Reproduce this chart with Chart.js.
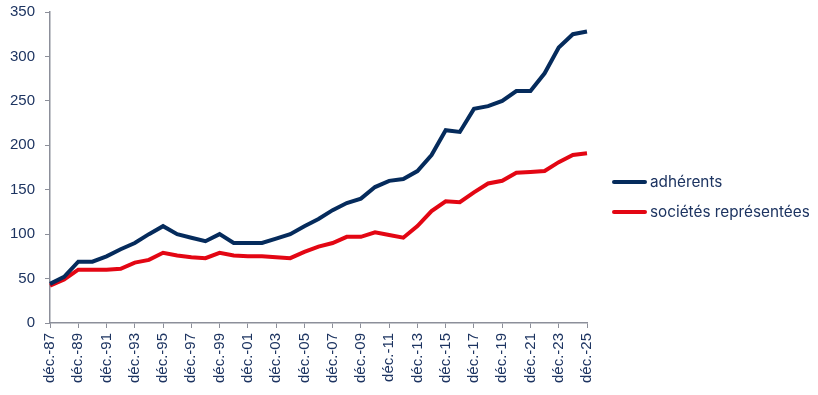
<!DOCTYPE html>
<html lang="fr">
<head>
<meta charset="UTF-8">
<title>Adhérents et sociétés représentées</title>
<style>
  html, body { margin: 0; padding: 0; background: #fff; }
  #wrap { width: 818px; height: 395px; position: relative; }
</style>
<script src="https://cdn.jsdelivr.net/npm/chart.js@4.4.1/dist/chart.umd.min.js"></script>
</head>
<body>
<div id="wrap"><canvas id="chart" width="818" height="395"></canvas></div>
<script>
// données (déc. de chaque année, 1987 -> 2025)
const years = ['87','88','89','90','91','92','93','94','95','96','97','98','99',
               '00','01','02','03','04','05','06','07','08','09','10','11','12',
               '13','14','15','16','17','18','19','20','21','22','23','24','25'];
const labels = years.map(y => 'déc.-' + y);

const adherents = [44, 52, 69, 69, 75, 83, 90, 100, 109, 100, 96, 92, 100,
                   90, 90, 90, 95, 100, 109, 117, 127, 135, 140, 153, 160, 162,
                   171, 189, 217, 215, 241, 244, 250, 261, 261, 281, 310, 325, 328];
const societes = [42, 49, 60, 60, 60, 61, 68, 71, 79, 76, 74, 73, 79,
                  76, 75, 75, 74, 73, 80, 86, 90, 97, 97, 102, 99, 96,
                  109, 126, 137, 136, 147, 157, 160, 169, 170, 171, 181, 189, 191];

const seriesNames = ['adhérents', 'sociétés représentées'];
const NAVY = '#052b5c';
const RED = '#e30613';
const TEXT = '#1d3461';
const AXIS = '#8c8f9a';

// légende dessinée à droite, comme dans Excel
const sideLegend = {
  id: 'sideLegend',
  afterDraw(chart) {
    const ctx = chart.ctx;
    ctx.save();
    ctx.font = '15.3px "Inter", "Liberation Sans", sans-serif';
    ctx.textBaseline = 'middle';
    chart.data.datasets.forEach((ds, i) => {
      const y = 182 + i * 30;
      ctx.strokeStyle = ds.borderColor;
      ctx.lineWidth = 4;
      ctx.lineCap = 'round';
      ctx.beginPath();
      ctx.moveTo(614, y);
      ctx.lineTo(645, y);
      ctx.stroke();
      ctx.fillStyle = TEXT;
      ctx.fillText(ds.label, 650, y);
    });
    ctx.restore();
  }
};

new Chart(document.getElementById('chart'), {
  type: 'line',
  data: {
    labels: labels,
    datasets: [
      { label: seriesNames[0], data: adherents, borderColor: NAVY, backgroundColor: NAVY,
        borderWidth: 4, pointRadius: 0, tension: 0 },
      { label: seriesNames[1], data: societes, borderColor: RED, backgroundColor: RED,
        borderWidth: 4, pointRadius: 0, tension: 0 }
    ]
  },
  options: {
    responsive: false,
    animation: false,
    layout: { padding: { top: 12, right: 231, left: 0, bottom: 0 } },
    plugins: { legend: { display: false }, tooltip: { enabled: false } },
    scales: {
      x: {
        offset: false,
        grid: { drawOnChartArea: false, drawTicks: true, tickLength: 5, color: AXIS },
        border: { display: true, color: AXIS, width: 1.5 },
        ticks: {
          autoSkip: false, minRotation: 90, maxRotation: 90, padding: 5,
          color: TEXT, font: { family: '"Liberation Sans", Arial, sans-serif', size: 15 },
          callback: function (v, i) { return i % 2 === 0 ? this.getLabelForValue(v) : null; }
        },
        afterFit: s => { s.height = 72; s.paddingLeft = 0; s.paddingRight = 0; }
      },
      y: {
        min: 0, max: 350,
        grid: { drawOnChartArea: false, drawTicks: true, tickLength: 5, color: AXIS },
        border: { display: true, color: AXIS, width: 1.5 },
        ticks: {
          stepSize: 50, padding: 10, color: TEXT,
          font: { family: '"Liberation Sans", Arial, sans-serif', size: 15 }
        },
        afterFit: s => { s.width = 50; s.paddingTop = 0; s.paddingBottom = 0; }
      }
    }
  },
  plugins: [sideLegend]
});
</script>
</body>
</html>
